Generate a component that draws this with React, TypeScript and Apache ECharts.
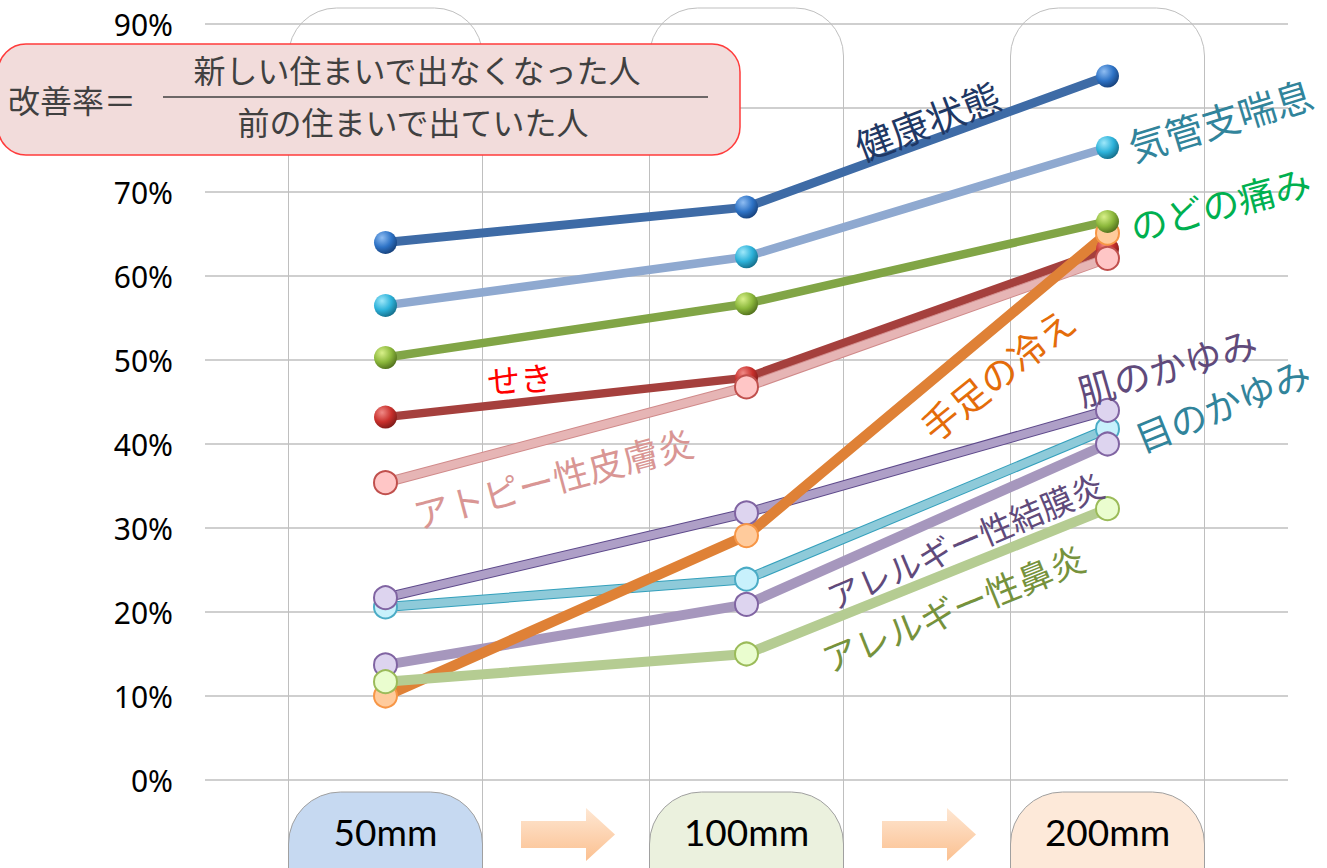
import React, { useEffect, useRef } from "react";
import * as echarts from "echarts";

// ---- data ----
const categories = ["50mm", "100mm", "200mm"];
const kenko = [64.0, 68.2, 83.8];
const kikanshi = [56.5, 62.3, 75.3];
const nodo = [50.3, 56.7, 66.5];
const seki = [43.2, 47.9, 63.2];
const atopy = [35.4, 46.8, 62.1];
const teashi = [10.0, 29.1, 65.1];
const hada = [21.7, 31.8, 44.0];
const me = [20.6, 23.9, 41.8];
const ketsumaku = [13.7, 20.9, 40.0];
const bien = [11.7, 15.0, 32.3];
const hiddenTicks = [80]; // covered by the formula box in the original

const formulaLeft = "改善率＝";
const formulaTop = "新しい住まいで出なくなった人";
const formulaBottom = "前の住まいで出ていた人";

const GRID_LEFT = 205;
const BAND = 361;
const GRID_TOP = 24;
const GRID_BOTTOM = 88;
const W = 1327;
const H = 868;

const JP = "'Noto Sans CJK JP', 'Noto Sans', sans-serif";

function sphere(light: string, base: string, dark: string) {
  return new echarts.graphic.RadialGradient(0.35, 0.3, 0.75, [
    { offset: 0, color: light },
    { offset: 0.55, color: base },
    { offset: 1, color: dark },
  ]);
}

type S = {
  name: string;
  data: number[];
  line: string;
  width: number;
  outline?: string;
  sym?: any;
  symFill?: string;
  symBorder?: string;
};

const seriesDefs: S[] = [
  { name: "せき", data: seki, line: "#A5403D", width: 8.5, sym: sphere("#F08A86", "#C9302C", "#7A1A18") },
  { name: "アトピー性皮膚炎", data: atopy, line: "#E6B5B5", width: 8, outline: "#D08A8A", symFill: "#FFC6C6", symBorder: "#C0504D" },
  { name: "目のかゆみ", data: me, line: "#8ECAD9", width: 8, outline: "#34A0BC", symFill: "#C8F1FC", symBorder: "#4BACC6" },
  { name: "アレルギー性結膜炎", data: ketsumaku, line: "#A697BD", width: 10, symFill: "#DDD4EF", symBorder: "#8064A2" },
  { name: "肌のかゆみ", data: hada, line: "#AE9FC7", width: 8, outline: "#5E4A8B", symFill: "#DDD4EF", symBorder: "#8064A2" },
  { name: "手足の冷え", data: teashi, line: "#DF8136", width: 10.5, symFill: "#FFCB9C", symBorder: "#F79646" },
  { name: "アレルギー性鼻炎", data: bien, line: "#B5CC92", width: 10, symFill: "#EAFDCF", symBorder: "#9BBB59" },
  { name: "のどの痛み", data: nodo, line: "#81A546", width: 8.5, sym: sphere("#D8F08A", "#8CB83C", "#4F6E1C") },
  { name: "気管支喘息", data: kikanshi, line: "#8FA9D0", width: 8.5, sym: sphere("#9EE8FA", "#2DB2DA", "#146C88") },
  { name: "健康状態", data: kenko, line: "#3E6BA6", width: 9, sym: sphere("#8FBDF2", "#2E73C6", "#163F78") },
];

const labelDefs = [
  { text: "健康状態", x: 927, y: 120, rot: 21, size: 38, color: "#1F3864" },
  { text: "気管支喘息", x: 1220, y: 119, rot: 17, size: 38, color: "#31849B" },
  { text: "のどの痛み", x: 1220, y: 203, rot: 15, size: 37, color: "#00B050" },
  { text: "せき", x: 520, y: 378, rot: 4, size: 33, color: "#FF0000" },
  { text: "アトピー性皮膚炎", x: 553, y: 477, rot: 15, size: 36, color: "#D99694" },
  { text: "手足の冷え", x: 997, y: 373, rot: 39, size: 37, color: "#E46C0A" },
  { text: "肌のかゆみ", x: 1167, y: 366, rot: 16, size: 37, color: "#604A7B" },
  { text: "目のかゆみ", x: 1222, y: 404, rot: 22, size: 37, color: "#31849B" },
  { text: "アレルギー性結膜炎", x: 965, y: 540, rot: 23, size: 33, color: "#604A7B" },
  { text: "アレルギー性鼻炎", x: 953, y: 607, rot: 22, size: 35, color: "#76923C" },
];

const pillFills = ["#C6D9F1", "#EBF1DE", "#FDE9D9"];

export default function App() {
  const ref = useRef<HTMLDivElement>(null);

  useEffect(() => {
    if (!ref.current) return;
    const chart = echarts.init(ref.current, undefined, { renderer: "svg" });

    const series: any[] = [];
    seriesDefs.forEach((d) => {
      if (d.outline) {
        series.push({
          type: "line",
          name: d.name + "_outline",
          data: d.data,
          showSymbol: false,
          symbol: "none",
          silent: true,
          lineStyle: { color: d.outline, width: d.width + 2 },
          z: 2,
        });
      }
      series.push({
        type: "line",
        name: d.name,
        data: d.data,
        symbol: "circle",
        symbolSize: 23,
        lineStyle: { color: d.line, width: d.width },
        itemStyle: d.sym
          ? { color: d.sym, borderWidth: 0 }
          : { color: d.symFill, borderColor: d.symBorder, borderWidth: 2 },
        z: 2,
      });
    });

    const centers = categories.map((_, i) => GRID_LEFT + BAND * (i + 0.5));

    const elements: any[] = [];
    centers.forEach((c) => {
      elements.push({
        type: "rect",
        shape: { x: c - 97, y: 8, width: 194, height: 920, r: 48 },
        style: { fill: "none", stroke: "#BFBFBF", lineWidth: 1 },
        z: 0,
      });
    });
    centers.forEach((c, i) => {
      elements.push({
        type: "rect",
        shape: { x: c - 97, y: 792, width: 194, height: 130, r: 52 },
        style: { fill: pillFills[i], stroke: "#A0A0A0", lineWidth: 1 },
        z: 5,
      });
      elements.push({
        type: "text",
        x: c,
        y: 831,
        style: {
          text: categories[i],
          fontSize: 37,
          fontFamily: "Lato, 'DejaVu Sans', sans-serif",
          fill: "#000",
          align: "center",
          verticalAlign: "middle",
        },
        z: 6,
      });
    });
    for (let i = 0; i < centers.length - 1; i++) {
      const m = (centers[i] + 97 + centers[i + 1] - 97) / 2 + 2;
      elements.push({
        type: "polygon",
        shape: {
          points: [
            [m - 47, 821],
            [m + 18, 821],
            [m + 18, 808],
            [m + 47, 834.5],
            [m + 18, 861],
            [m + 18, 848],
            [m - 47, 848],
          ],
        },
        style: {
          fill: new echarts.graphic.LinearGradient(0, 0, 0, 1, [
            { offset: 0, color: "#FEE7D3" },
            { offset: 1, color: "#FBC090" },
          ]),
        },
        z: 5,
      });
    }
    elements.push({
      type: "rect",
      shape: { x: -2, y: 44, width: 742, height: 111, r: 28 },
      style: { fill: "#F2DCDB", stroke: "#FF3B3B", lineWidth: 1.5 },
      z: 8,
    });
    elements.push({
      type: "text",
      x: 8,
      y: 99,
      style: { text: formulaLeft, fontSize: 32, fontFamily: JP, fill: "#404040", align: "left", verticalAlign: "middle" },
      z: 9,
    });
    elements.push({
      type: "text",
      x: 417,
      y: 69,
      style: { text: formulaTop, fontSize: 32, fontFamily: JP, fill: "#404040", align: "center", verticalAlign: "middle" },
      z: 9,
    });
    elements.push({
      type: "line",
      shape: { x1: 163, y1: 97, x2: 708, y2: 97 },
      style: { stroke: "#404040", lineWidth: 1.5 },
      z: 9,
    });
    elements.push({
      type: "text",
      x: 413,
      y: 121,
      style: { text: formulaBottom, fontSize: 32, fontFamily: JP, fill: "#404040", align: "center", verticalAlign: "middle" },
      z: 9,
    });
    labelDefs.forEach((l) => {
      elements.push({
        type: "text",
        x: l.x,
        y: l.y,
        rotation: (l.rot * Math.PI) / 180,
        style: {
          text: l.text,
          fontSize: l.size,
          fontFamily: JP,
          fill: l.color,
          align: "center",
          verticalAlign: "middle",
        },
        z: 10,
      });
    });

    chart.setOption({
      animation: false,
      backgroundColor: "#FFFFFF",
      grid: {
        left: GRID_LEFT,
        top: GRID_TOP,
        width: BAND * categories.length,
        height: H - GRID_TOP - GRID_BOTTOM,
        containLabel: false,
      },
      xAxis: {
        type: "category",
        data: categories,
        boundaryGap: true,
        axisLine: { show: false },
        axisTick: { show: false },
        axisLabel: { show: false },
        splitLine: { show: false },
      },
      yAxis: {
        type: "value",
        min: 0,
        max: 90,
        interval: 10,
        axisLine: { show: false },
        axisTick: { show: false },
        axisLabel: {
          formatter: (v: number) => (hiddenTicks.includes(v) ? "" : v + "%"),
          fontSize: 30,
          color: "#000",
          margin: 32,
          fontFamily: "'Noto Sans', sans-serif",
        },
        splitLine: { show: true, lineStyle: { color: "#BFBFBF", width: 1.5 } },
      },
      graphic: { elements },
      series,
    });

    return () => chart.dispose();
  }, []);

  return (
    <div
      ref={ref}
      style={{ position: "fixed", left: 0, top: 0, width: W, height: H, background: "#fff" }}
    />
  );
}
